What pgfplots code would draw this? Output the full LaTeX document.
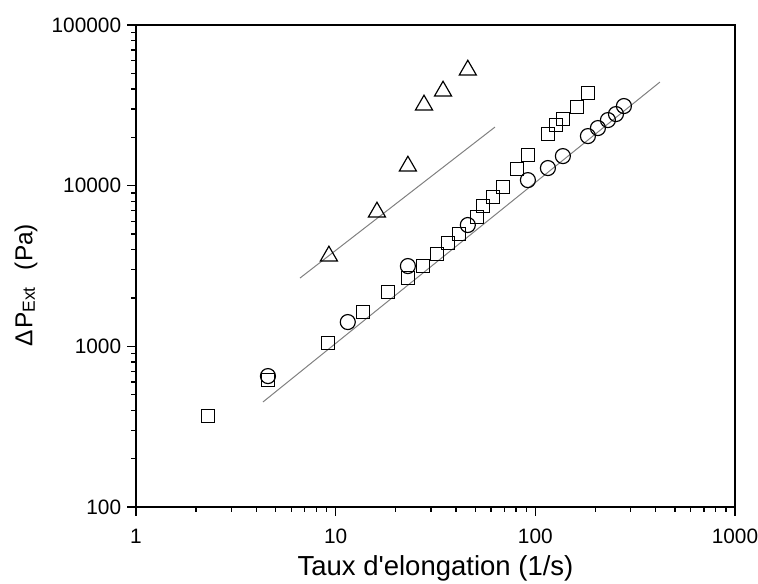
\documentclass[border=0pt]{standalone}
\usepackage{fontspec}
\setmainfont{Liberation Sans}
\usepackage{pgfplots}
\pgfplotsset{compat=1.18}
\begin{document}
\begin{tikzpicture}
\begin{axis}[
  at={(0,0)}, anchor=south west,
  scale only axis, width=359.4pt, height=289.2pt,
  xmode=log, ymode=log,
  xmin=1, xmax=1000, ymin=100, ymax=100000,
  xtick={1,10,100,1000}, xticklabels={1,10,100,1000},
  ytick={100,1000,10000,100000}, yticklabels={100,1000,10000,100000},
  minor xtick={2,3,4,5,6,7,8,9,20,30,40,50,60,70,80,90,200,300,400,500,600,700,800,900},
  minor ytick={200,300,400,500,600,700,800,900,2000,3000,4000,5000,6000,7000,8000,9000,20000,30000,40000,50000,60000,70000,80000,90000},
  tick align=outside, tick pos=left,
  major tick length=5.4pt, minor tick length=3pt,
  every tick/.style={black, line width=0.8pt},
  axis line style={line width=1.1pt},
  ticklabel style={font=\fontsize{12.5}{14}\selectfont},
  xticklabel style={yshift=-4.5pt},
  xlabel={Taux d\textquotesingle elongation (1/s)},
  xlabel style={font=\fontsize{16.5}{19}\selectfont, at={(axis description cs:0.5,0)}, anchor=base, yshift=-41.4pt},
  ylabel={Δ\kern0.5pt P\raisebox{-0.2ex}{\fontsize{10.5}{11}\selectfont Ext}\hspace{0.7em}(Pa)},
  ylabel style={font=\fontsize{14.7}{17}\selectfont, at={(axis description cs:-0.1836,0.4606)}, anchor=center},
  clip=false,
]
% squares
\addplot[only marks, mark=square, mark size=3.9pt, mark options={solid, fill=white, draw=black, line width=0.7pt}] coordinates {
(2.29,368) (4.58,617) (9.15,1048) (13.7,1635) (18.3,2177) (23.0,2661)
(27.4,3160) (32.2,3753) (36.5,4393) (41.4,5000) (51.0,6380) (54.7,7466)
(61.3,8490) (68.8,9800) (80.9,12690) (91.8,15500) (115.6,20950)
(126.8,23830) (137.4,25960) (161.5,30830) (183.4,37700)
};
% circles
\addplot[only marks, mark=o, mark size=4.5pt, mark options={solid, fill=white, draw=black, line width=0.7pt}] coordinates {
(4.58,653) (11.5,1416) (23.0,3160) (45.9,5688) (91.8,10830) (115.6,12870)
(137.4,15280) (183.4,20350) (205.8,22830) (231,25600) (253.4,27900) (277.8,31300)
};
% triangles
\addplot[only marks, mark=triangle, mark size=5.9pt, mark options={solid, fill=white, draw=black, line width=0.7pt}] coordinates {
(9.25,3648) (16.1,6852) (23.0,13240) (27.7,31760) (34.5,38800) (45.9,52400)
};
% fit lines
\addplot[gray, line width=0.6pt, no marks] coordinates {(6.63,2661) (62.8,23160)};
\addplot[gray, line width=0.6pt, no marks] coordinates {(4.32,450) (420.7,44140)};
\end{axis}
\pgfresetboundingbox
\path (current axis.south west) ++(-81.6pt,-46.2pt) rectangle ++(454.8pt,350.4pt);
\end{tikzpicture}
\end{document}
